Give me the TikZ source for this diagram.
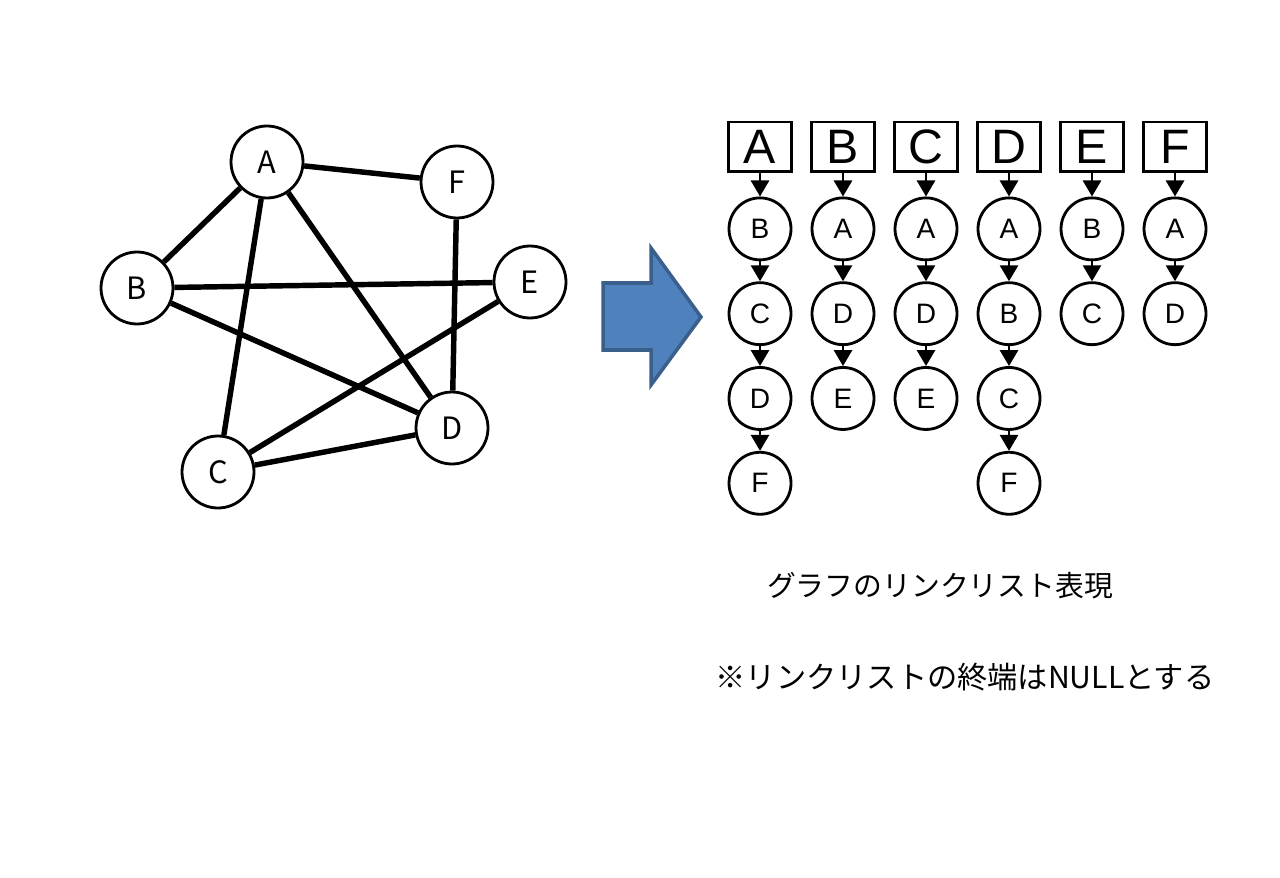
\documentclass[tikz,border=0pt]{standalone}
\usepackage{fontspec}
\setmainfont{Liberation Sans}
\newfontfamily\jpfont{Noto Sans CJK JP}
\usetikzlibrary{positioning,arrows.meta}
\definecolor{arrowblue}{HTML}{4F81BD}
\definecolor{arrowedge}{HTML}{3A5F8B}

\begin{document}
\begin{tikzpicture}[x=0.02cm,y=-0.02cm,
    vert/.style={draw, circle, line width=1.6pt, minimum size=1.44cm, inner sep=0pt, font=\jpfont\fontsize{17.5}{18}\selectfont},
    head/.style={draw, rectangle, line width=1.7pt, minimum width=1.26cm, minimum height=1cm, inner sep=0pt, font=\fontsize{27.5}{28}\selectfont},
    cell/.style={draw, circle, line width=1.6pt, minimum size=1.24cm, inner sep=0pt, font=\fontsize{16}{17}\selectfont},
    link/.style={-{Triangle[length=0.32cm,width=0.36cm]}, line width=1.6pt},
    edge/.style={line width=3.1pt}]
    \useasboundingbox (0,0) rectangle (1280,878);

    % graph
    \node[vert] (A) at (267,162) {A};
    \node[vert] (F) at (457,182) {F};
    \node[vert] (B) at (137,288) {B};
    \node[vert] (E) at (530,282) {E};
    \node[vert] (C) at (218,472) {C};
    \node[vert] (D) at (452,428) {D};

    \draw[edge] (A) -- (F);
    \draw[edge] (A) -- (B);
    \draw[edge] (A) -- (C);
    \draw[edge] (A) -- (D);
    \draw[edge] (B) -- (E);
    \draw[edge] (B) -- (D);
    \draw[edge] (F) -- (D);
    \draw[edge] (E) -- (C);
    \draw[edge] (C) -- (D);

    % big arrow
    \draw[line width=2pt, draw=arrowedge, fill=arrowblue] (603,283) -- (651,283) -- (651,248) -- (701,317)
        -- (651,385) -- (651,350) -- (603,350) -- cycle;

    % adjacency lists
    \node[head] (hA) at (760,147) {A};
    \node[head] (hB) at (843,147) {B};
    \node[head] (hC) at (926,147) {C};
    \node[head] (hD) at (1009,147) {D};
    \node[head] (hE) at (1092,147) {E};
    \node[head] (hF) at (1175,147) {F};

    \node[cell] (a1) [below=0.46cm of hA] {B};
    \node[cell] (a2) [below=0.4cm of a1] {C};
    \node[cell] (a3) [below=0.4cm of a2] {D};
    \node[cell] (a4) [below=0.4cm of a3] {F};

    \node[cell] (b1) [below=0.46cm of hB] {A};
    \node[cell] (b2) [below=0.4cm of b1] {D};
    \node[cell] (b3) [below=0.4cm of b2] {E};

    \node[cell] (c1) [below=0.46cm of hC] {A};
    \node[cell] (c2) [below=0.4cm of c1] {D};
    \node[cell] (c3) [below=0.4cm of c2] {E};

    \node[cell] (d1) [below=0.46cm of hD] {A};
    \node[cell] (d2) [below=0.4cm of d1] {B};
    \node[cell] (d3) [below=0.4cm of d2] {C};
    \node[cell] (d4) [below=0.4cm of d3] {F};

    \node[cell] (e1) [below=0.46cm of hE] {B};
    \node[cell] (e2) [below=0.4cm of e1] {C};

    \node[cell] (f1) [below=0.46cm of hF] {A};
    \node[cell] (f2) [below=0.4cm of f1] {D};

    \draw[link] (hA) -- (a1);
    \draw[link] (a1) -- (a2);
    \draw[link] (a2) -- (a3);
    \draw[link] (a3) -- (a4);
    \draw[link] (hB) -- (b1);
    \draw[link] (b1) -- (b2);
    \draw[link] (b2) -- (b3);
    \draw[link] (hC) -- (c1);
    \draw[link] (c1) -- (c2);
    \draw[link] (c2) -- (c3);
    \draw[link] (hD) -- (d1);
    \draw[link] (d1) -- (d2);
    \draw[link] (d2) -- (d3);
    \draw[link] (d3) -- (d4);
    \draw[link] (hE) -- (e1);
    \draw[link] (e1) -- (e2);
    \draw[link] (hF) -- (f1);
    \draw[link] (f1) -- (f2);

    % captions
    \node[font=\jpfont\fontsize{16.4}{18}\selectfont] (cap) at (940,586) {グラフのリンクリスト表現};
    \node[font=\jpfont\fontsize{17.2}{19}\selectfont] (note) at (965,677) {※リンクリストの終端はNULLとする};
\end{tikzpicture}
\end{document}
